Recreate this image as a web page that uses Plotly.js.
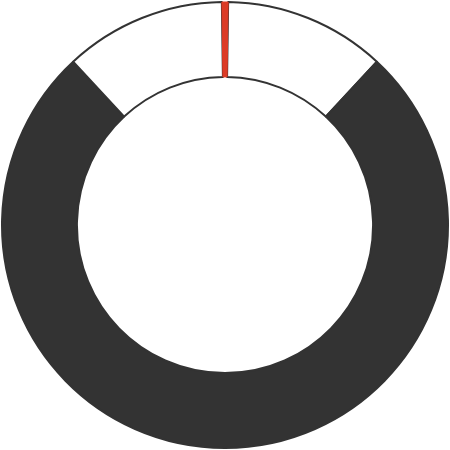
<!DOCTYPE html>
<html>
<head>
<meta charset="utf-8">
<script src="https://cdn.plot.ly/plotly-3.0.1.min.js"></script>
<style>html,body{margin:0;padding:0;background:#fff;}#chart{width:450px;height:450px;}</style>
</head>
<body>
<div id="chart"></div>
<script>
var labels = ["Remaining B", "Filled", "Remaining A", "Marker"];
var values = [11.75, 76.5, 11.75, 0.45];
var colors = ["#ffffff", "#333333", "#ffffff", "#dc3b26"];
var lineColors = ["#333333", "#333333", "#333333", "#dc3b26"];
var lineWidths = [2, 2, 2, 1];

var total = values.reduce(function (a, b) { return a + b; }, 0);
var markerHalfAngle = values[3] / total * 360 / 2;

var trace = {
  type: "pie",
  labels: labels,
  values: values,
  sort: false,
  direction: "clockwise",
  rotation: markerHalfAngle,
  hole: 0.664,
  textinfo: "none",
  hoverinfo: "none",
  showlegend: false,
  marker: { colors: colors, line: { color: lineColors, width: lineWidths } }
};

Plotly.newPlot("chart", [trace], {
  width: 450, height: 450,
  margin: { l: 2, r: 2, t: 2, b: 2 },
  paper_bgcolor: "#ffffff",
  plot_bgcolor: "#ffffff",
  showlegend: false
}, { displayModeBar: false, staticPlot: true });
</script>
</body>
</html>
